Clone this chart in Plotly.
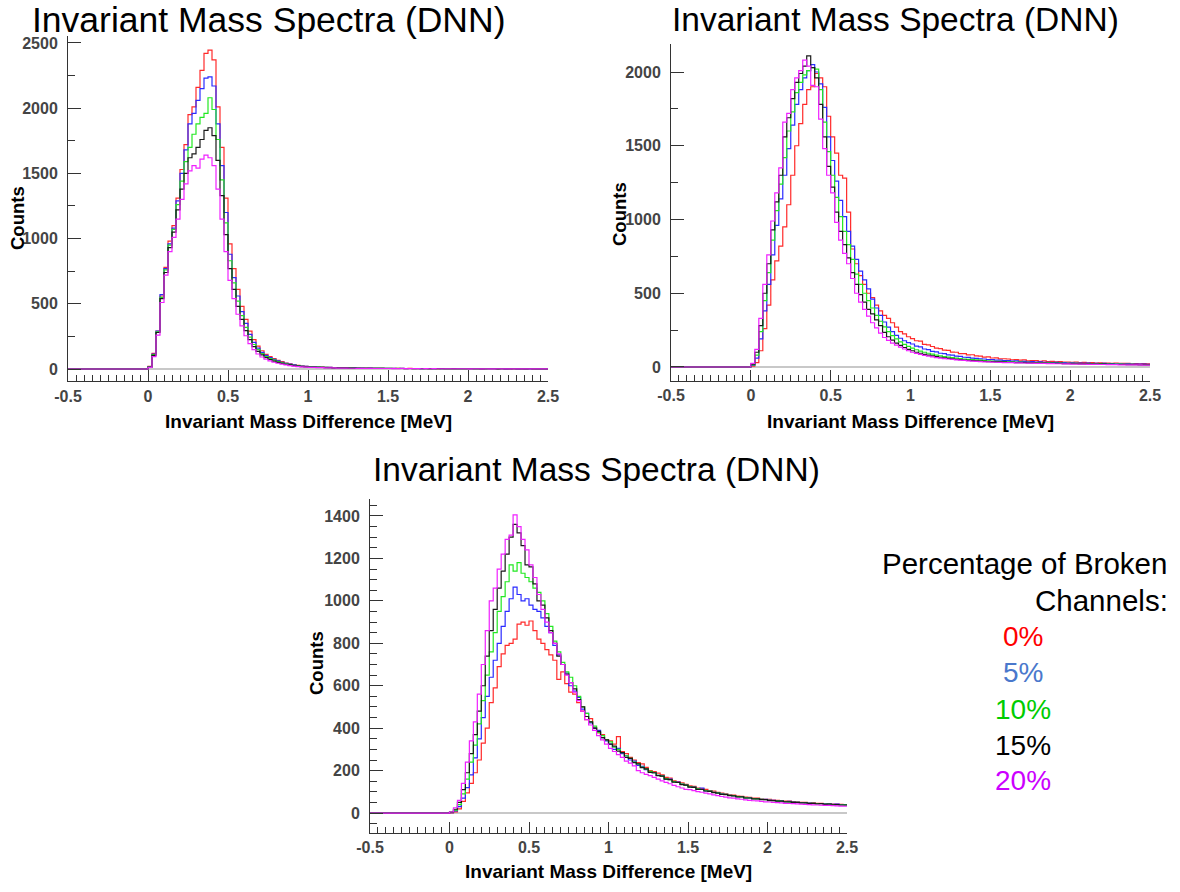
import numpy as np
import plotly.graph_objects as go

# ---------------- data (counts per 0.025 MeV bin, bins from 0 to 2.5 MeV) ----------------
series_names = ["0%", "5%", "10%", "15%", "20%"]
x_tick_labels = ["-0.5", "0", "0.5", "1", "1.5", "2", "2.5"]

p1_red = [20,120,290,560,780,980,1100,1310,1530,1720,
          1950,2010,2160,2290,2420,2445,2370,2010,1700,1310,
          960,770,610,480,380,290,225,175,140,112,
          95,80,66,56,46,39,33,28,25,21,
          19,17,15,14,13,12,11,10,10,9,
          9,8,8,7,7,7,6,6,6,5,
          6,5,5,5,4,5,4,4,4,4,
          3,4,3,4,3,3,3,3,2,3,
          3,2,3,2,2,3,2,2,2,2,
          2,1,2,2,1,2,1,1,2,1]
p1_blue = [18,115,290,570,770,960,1080,1290,1500,1680,
           1880,1960,2060,2150,2230,2240,2170,1880,1560,1200,
           880,700,560,440,350,265,205,160,128,104,
           88,74,62,52,44,37,31,27,23,20,
           18,16,15,13,12,12,10,10,9,9,
           8,8,7,7,6,7,6,6,5,5,
           5,5,4,5,4,4,4,4,3,4,
           3,3,4,3,3,3,2,3,3,2,
           2,3,2,2,2,2,3,2,2,1,
           2,2,1,2,1,1,2,1,1,1]
p1_green = [16,110,285,550,760,950,1070,1260,1440,1590,
            1700,1800,1880,1930,1960,2080,1990,1760,1450,1120,
            830,660,520,410,320,245,188,148,118,96,
            80,68,57,48,40,34,29,25,21,18,
            17,15,14,12,12,11,10,9,9,8,
            8,7,7,6,7,6,6,5,5,5,
            5,4,5,4,4,4,3,4,3,3,
            3,3,3,3,2,3,3,2,2,3,
            2,2,2,2,3,2,2,2,1,2,
            2,1,2,1,1,2,1,1,1,1]
p1_black = [15,105,280,540,740,930,1050,1220,1380,1500,
            1620,1650,1700,1760,1830,1850,1790,1600,1330,1030,
            770,610,480,380,295,225,172,135,108,88,
            73,61,51,43,36,31,26,22,19,17,
            15,14,13,12,11,10,9,9,8,8,
            7,7,6,6,6,5,5,5,5,4,
            4,4,4,4,3,4,3,3,3,3,
            3,2,3,3,2,2,3,2,2,2,
            2,2,2,1,2,2,2,1,2,1,
            1,2,1,1,1,2,1,1,1,1]
p1_magenta = [12,95,260,510,720,900,1010,1150,1300,1420,
              1520,1560,1540,1610,1640,1620,1560,1380,1150,900,
              680,540,420,330,255,195,148,115,92,75,
              62,52,44,37,31,26,22,19,16,14,
              13,12,11,10,9,9,8,7,7,7,
              6,6,5,5,5,5,4,4,4,4,
              4,3,3,4,3,3,3,3,2,3,
              2,3,2,2,2,2,2,2,2,2,
              1,2,2,1,2,1,1,2,1,1,
              1,1,1,1,1,1,1,1,1,1]

p2_red = [5,30,110,260,420,590,720,820,950,1100,
          1300,1500,1650,1780,1880,1900,1990,1960,1900,1700,
          1560,1450,1300,1280,1050,800,700,620,560,500,
          470,420,380,350,330,300,270,240,225,205,
          192,178,175,154,150,139,128,124,114,112,
          101,100,91,90,82,83,75,74,67,68,
          61,62,55,56,54,49,50,46,48,42,
          44,43,38,41,37,38,34,37,33,33,
          31,33,29,31,28,30,27,28,26,27,
          25,27,24,24,25,22,23,22,23,21]
p2_blue = [10,60,190,380,560,760,960,1140,1300,1480,
           1640,1780,1880,1960,2010,2050,2000,1920,1760,1560,
           1400,1260,1130,1020,920,820,730,650,590,530,
           460,400,350,305,270,240,215,195,178,165,
           156,142,137,122,118,106,103,93,91,82,
           80,74,72,66,65,60,59,55,54,50,
           50,46,46,43,43,40,41,37,38,35,
           36,33,34,31,32,30,31,28,29,27,
           28,26,27,24,26,23,25,22,24,21,
           23,21,22,20,21,19,20,19,19,18]
p2_green = [15,80,240,450,640,860,1060,1240,1420,1600,
            1730,1860,1930,1980,2010,2030,2020,1880,1660,1460,
            1300,1150,1020,920,830,730,630,560,500,450,
            400,350,310,272,240,212,190,170,153,140,
            128,117,108,100,93,87,81,76,71,67,
            63,60,57,54,52,50,48,46,44,42,
            40,39,38,37,35,34,33,33,32,31,
            30,30,29,28,28,27,26,26,25,25,
            24,24,23,23,22,22,21,21,20,20,
            20,19,19,18,18,18,17,17,17,16]
p2_black = [20,100,280,500,700,930,1120,1300,1560,1690,
            1820,1930,1990,2040,2110,2030,1960,1780,1560,1360,
            1220,1050,920,830,740,640,560,490,440,390,
            360,320,280,235,205,182,162,146,132,120,
            110,100,93,86,80,75,70,66,62,58,
            55,52,50,47,45,43,42,40,38,37,
            36,35,34,33,32,31,30,30,29,28,
            28,27,26,26,25,25,24,24,23,23,
            22,22,21,21,20,20,19,19,19,18,
            18,17,17,17,16,16,16,15,15,15]
p2_magenta = [25,120,330,560,760,990,1180,1350,1660,1720,
              1880,1960,2010,2080,2040,1910,1900,1680,1480,1300,
              1180,980,860,770,700,600,500,440,390,345,
              300,265,230,200,180,162,148,135,122,110,
              100,92,85,79,73,68,64,60,57,54,
              51,48,46,44,42,40,38,37,35,34,
              33,32,31,30,30,29,28,28,27,26,
              26,25,24,24,23,23,22,22,21,21,
              20,20,19,19,18,18,18,17,17,16,
              16,16,15,15,15,14,14,14,13,13]

p3_red = [1,6,20,55,95,140,190,250,330,400,
          520,590,690,750,790,800,820,890,900,885,
          905,860,820,800,770,745,720,630,665,610,
          570,560,520,480,440,445,400,378,370,345,
          340,325,360,290,280,262,250,238,232,215,
          200,195,188,180,168,165,152,148,142,135,
          128,126,118,115,112,106,103,98,94,90,
          86,85,80,79,75,74,71,70,66,65,
          64,61,60,59,56,56,54,52,51,50,
          48,48,46,46,44,44,42,42,41,40]
p3_blue = [2,10,30,70,120,180,260,350,450,550,
           640,720,800,880,950,1010,1065,1030,1000,1010,
           980,960,950,920,880,850,790,745,700,660,
           600,575,545,490,470,425,400,390,355,340,
           325,300,305,280,270,250,245,225,220,205,
           195,190,178,175,160,160,148,146,136,132,
           124,122,114,118,104,104,97,96,90,88,
           83,82,77,78,72,72,68,68,64,64,
           61,60,57,58,54,55,52,51,49,49,
           47,46,45,45,43,43,41,42,40,40]
p3_green = [3,14,40,90,160,240,320,420,530,650,
            760,850,950,1020,1090,1170,1140,1180,1130,1110,
            1090,1060,1040,1000,940,880,810,760,710,665,
            640,600,550,500,470,430,410,380,365,345,
            335,310,300,285,270,258,240,232,216,208,
            196,190,178,174,162,158,148,144,136,132,
            124,121,114,111,105,103,97,95,89,88,
            83,82,77,76,72,71,68,67,64,63,
            60,59,57,56,54,53,51,50,48,48,
            46,46,44,44,42,42,40,40,39,39]
p3_black = [4,18,50,110,190,280,370,480,600,740,
            860,960,1060,1140,1220,1300,1360,1320,1260,1170,
            1160,1080,1000,980,920,860,800,740,700,655,
            615,585,535,500,455,430,400,385,355,345,
            325,315,292,285,262,258,238,232,214,208,
            192,190,176,174,160,158,146,144,134,132,
            122,121,112,111,104,102,96,94,88,87,
            82,81,76,76,71,71,67,67,63,63,
            59,59,56,56,53,53,50,50,48,48,
            45,46,43,44,41,42,39,40,38,38]
p3_magenta = [5,25,60,140,240,340,430,560,700,860,
              1000,1060,1150,1220,1290,1310,1405,1350,1290,1240,
              1170,1110,1030,960,900,850,800,750,700,650,
              615,570,530,480,440,415,390,365,345,325,
              305,290,275,262,245,235,222,200,190,182,
              176,168,160,152,145,138,130,124,118,112,
              110,106,101,98,94,90,86,82,78,75,
              72,70,67,65,62,60,58,57,55,53,
              52,50,49,48,46,45,44,43,42,41,
              40,39,38,37,36,36,35,34,33,32]

# ---------------- styling ----------------
FONT = "Liberation Sans, Arial, Helvetica, sans-serif"
W, H = 1180, 892
line_colors = ["#ff2a2a", "#2a2aff", "#22e822", "#1a1a1a", "#f020ff"]
legend_colors = ["#ff0000", "#4a78cc", "#00cc00", "#000000", "#cc00ff"]

BIN_W = 0.025
N_BINS = 100
left_edges = np.round(np.arange(N_BINS) * BIN_W, 4)

panels = [
    dict(data=[p1_red, p1_blue, p1_green, p1_black, p1_magenta],
         px_x=(68, 548), px_y=(381.4, 35.8), yrange=(-95, 2555), dtick=500, minor=250),
    dict(data=[p2_red, p2_blue, p2_green, p2_black, p2_magenta],
         px_x=(671, 1150), px_y=(381, 44), yrange=(-95, 2190), dtick=500, minor=250),
    dict(data=[p3_red, p3_blue, p3_green, p3_black, p3_magenta],
         px_x=(370, 847), px_y=(833, 499), yrange=(-94, 1480), dtick=200, minor=50),
]

fig = go.Figure()
layout = dict(width=W, height=H, margin=dict(l=0, r=0, t=0, b=0, autoexpand=False),
              paper_bgcolor="white", plot_bgcolor="white", showlegend=False)

tick_font = dict(family=FONT, size=16, color="#444", weight="bold")

for i, p in enumerate(panels):
    sfx = "" if i == 0 else str(i + 1)
    for vals, col, name in zip(p["data"], line_colors, series_names):
        assert len(vals) == N_BINS
        xs = [-0.5] + list(left_edges) + [2.5]
        ys = [0] + list(vals) + [vals[-1]]
        fig.add_trace(go.Scatter(x=xs, y=ys, mode="lines", name=name,
                                 line=dict(color=col, width=1.2, shape="hv"),
                                 xaxis="x" + sfx, yaxis="y" + sfx,
                                 hoverinfo="skip"))
    x0, x1 = p["px_x"]
    yb, yt = p["px_y"]
    layout["xaxis" + sfx] = dict(
        domain=[x0 / W, x1 / W], anchor="y" + sfx, range=[-0.5, 2.5], automargin=False,
        tickmode="array", tickvals=[-0.5, 0, 0.5, 1, 1.5, 2, 2.5], ticktext=x_tick_labels,
        ticks="inside", ticklen=11, tickwidth=1, tickcolor="#333",
        minor=dict(dtick=0.05, tick0=-0.5, ticks="inside", ticklen=6, tickwidth=1, tickcolor="#333"),
        showline=True, linecolor="#333", linewidth=1, showgrid=False, zeroline=False,
        tickfont=tick_font, fixedrange=True)
    layout["yaxis" + sfx] = dict(
        domain=[1 - yb / H, 1 - yt / H], anchor="x" + sfx, range=list(p["yrange"]), automargin=False,
        tick0=0, dtick=p["dtick"],
        ticks="inside", ticklen=13, tickwidth=1, tickcolor="#333",
        minor=dict(dtick=p["minor"], ticks="inside", ticklen=7, tickwidth=1, tickcolor="#333"),
        showline=True, linecolor="#333", linewidth=1, showgrid=False,
        zeroline=True, zerolinecolor="#c8c8c8", zerolinewidth=1.5,
        ticklabelstandoff=6,
        tickfont=tick_font, fixedrange=True)

fig.update_layout(**layout)

def ann(text, px, py, size, color="black", xanchor="center", angle=0, bold=False):
    fig.add_annotation(text=("<b>%s</b>" % text) if bold else text,
                       x=px / W, y=1 - py / H, xref="paper", yref="paper",
                       xanchor=xanchor, yanchor="middle", showarrow=False, textangle=angle,
                       borderpad=0,
                       font=dict(family=FONT, size=size, color=color))

title = "Invariant Mass Spectra (DNN)"
ann(title, 268, 20.5, 35.5)
ann(title, 895, 19.5, 33.5)
ann(title, 596, 470, 33.5)

xtitle = "Invariant Mass Difference [MeV]"
ann(xtitle, 308, 421, 19, bold=True)
ann(xtitle, 910, 421, 19, bold=True)
ann(xtitle, 608, 871, 19, bold=True)

ann("Counts", 17, 218, 18.5, angle=-90, bold=True)
ann("Counts", 619, 214, 18.5, angle=-90, bold=True)
ann("Counts", 316, 663, 18.5, angle=-90, bold=True)

ann("Percentage of Broken", 1168, 563, 29.5, xanchor="right")
ann("Channels:", 1169, 600, 29.5, xanchor="right")
for lab, col, py in zip(series_names, legend_colors, [636, 672, 709, 745, 780]):
    ann(lab, 1023, py, 28, color=col)

fig.write_html("out.html", config={"displayModeBar": False})
